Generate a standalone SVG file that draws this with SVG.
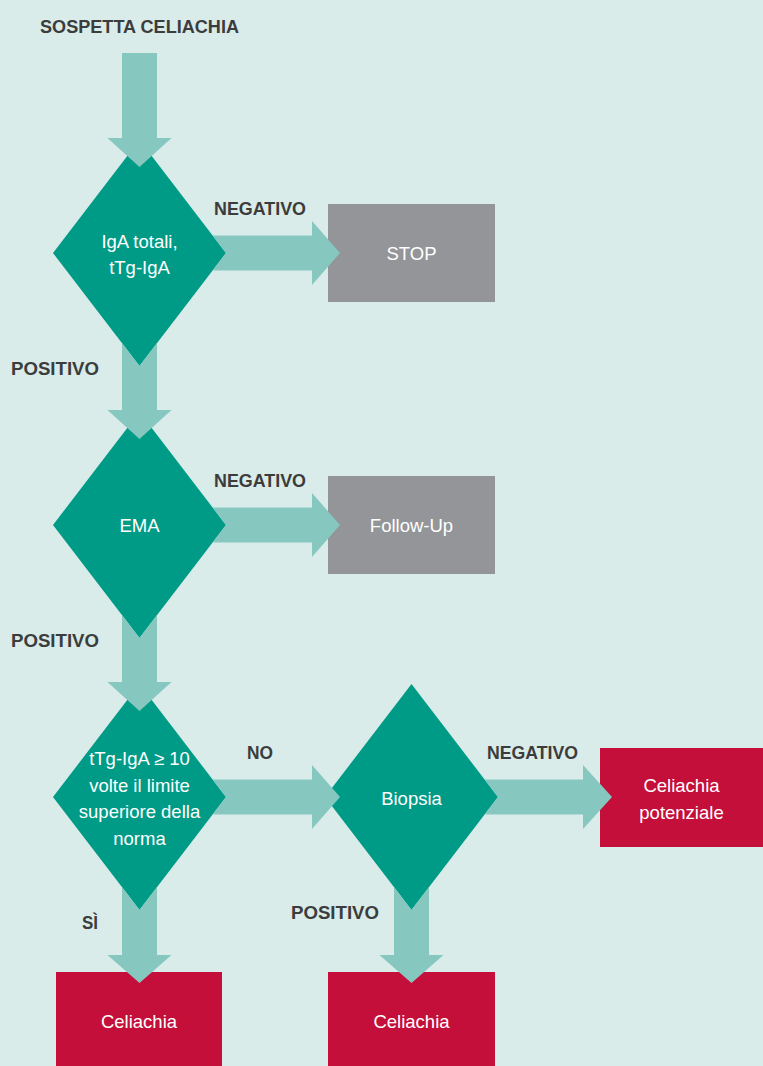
<svg xmlns="http://www.w3.org/2000/svg" width="763" height="1066" viewBox="0 0 763 1066">
<style>
.bg{fill:#d9ecea}
.arrow{fill:#86c7bf}
.dia{fill:#009b87}
.gray{fill:#939598}
.red{fill:#c40f3a}
.lbl{font-family:"Liberation Sans",Arial,sans-serif;font-weight:bold;font-size:19px;fill:#3c3c3c}
.nt{font-family:"Liberation Sans",Arial,sans-serif;font-size:18.5px;fill:#ffffff;text-anchor:middle}
</style>
<rect class="bg" x="0" y="0" width="763" height="1066"/>
<g id="nodes">
  <g id="d1"><polygon class="dia" points="139.5,140 226,253 139.5,366 53,253"/>
    <text class="nt" x="139.5" y="248">IgA totali,</text>
    <text class="nt" x="139.5" y="274">tTg-IgA</text></g>
  <g id="stop"><rect class="gray" x="328" y="204" width="167" height="98"/>
    <text class="nt" x="411.5" y="260">STOP</text></g>
  <g id="d2"><polygon class="dia" points="139.5,412 226,525 139.5,638 53,525"/>
    <text class="nt" x="139.5" y="532">EMA</text></g>
  <g id="followup"><rect class="gray" x="328" y="476" width="167" height="98"/>
    <text class="nt" x="411.5" y="532">Follow-Up</text></g>
  <g id="d3"><polygon class="dia" points="139.5,684 226,797 139.5,910 53,797"/>
    <text class="nt" x="139.5" y="765">tTg-IgA ≥ 10</text>
    <text class="nt" x="139.5" y="792">volte il limite</text>
    <text class="nt" x="139.5" y="818">superiore della</text>
    <text class="nt" x="139.5" y="845">norma</text></g>
  <g id="biopsia"><polygon class="dia" points="411.5,684 498,797 411.5,910 325,797"/>
    <text class="nt" x="411.5" y="805">Biopsia</text></g>
  <g id="potenziale"><rect class="red" x="600" y="748" width="163" height="99"/>
    <text class="nt" x="681.5" y="792">Celiachia</text>
    <text class="nt" x="681.5" y="819">potenziale</text></g>
  <g id="celiachia1"><rect class="red" x="56" y="972" width="166" height="94"/>
    <text class="nt" x="139" y="1028">Celiachia</text></g>
  <g id="celiachia2"><rect class="red" x="328" y="972" width="167" height="94"/>
    <text class="nt" x="411.5" y="1028">Celiachia</text></g>
</g>
<g id="connectors">
  <polygon class="arrow" points="122,53 157,53 157,138 171.5,138 139.5,167 107.5,138 122,138"/>
  <polygon class="arrow" points="212.6,235.5 312,235.5 312,221 340,253 312,285 312,270.5 212.6,270.5 226,253"/>
  <polygon class="arrow" points="122,343.1 139.5,366 157,343.1 157,410 171.5,410 139.5,439 107.5,410 122,410"/>
  <polygon class="arrow" points="212.6,507.5 312,507.5 312,493 340,525 312,557 312,542.5 212.6,542.5 226,525"/>
  <polygon class="arrow" points="122,615.1 139.5,638 157,615.1 157,682 171.5,682 139.5,711 107.5,682 122,682"/>
  <polygon class="arrow" points="212.6,779.5 312,779.5 312,765 340,797 312,829 312,814.5 212.6,814.5 226,797"/>
  <polygon class="arrow" points="484.6,779.5 583,779.5 583,765 612,797 583,829 583,814.5 484.6,814.5 498,797"/>
  <polygon class="arrow" points="122,887.1 139.5,910 157,887.1 157,955 171.5,955 139.5,983 107.5,955 122,955"/>
  <polygon class="arrow" points="394,887.1 411.5,910 429,887.1 429,955 443.5,955 411.5,983 379.5,955 394,955"/>
</g>
<g id="labels">
  <text class="lbl" x="40" y="33" textLength="199" lengthAdjust="spacingAndGlyphs">SOSPETTA CELIACHIA</text>
  <text class="lbl" x="214" y="215" textLength="92" lengthAdjust="spacingAndGlyphs">NEGATIVO</text>
  <text class="lbl" x="11" y="375" textLength="88" lengthAdjust="spacingAndGlyphs">POSITIVO</text>
  <text class="lbl" x="214" y="487" textLength="92" lengthAdjust="spacingAndGlyphs">NEGATIVO</text>
  <text class="lbl" x="11" y="647" textLength="88" lengthAdjust="spacingAndGlyphs">POSITIVO</text>
  <text class="lbl" x="247" y="759" textLength="26" lengthAdjust="spacingAndGlyphs">NO</text>
  <text class="lbl" x="487" y="759" textLength="91" lengthAdjust="spacingAndGlyphs">NEGATIVO</text>
  <text class="lbl" x="82" y="929" textLength="16" lengthAdjust="spacingAndGlyphs">SÌ</text>
  <text class="lbl" x="291" y="919" textLength="88" lengthAdjust="spacingAndGlyphs">POSITIVO</text>
</g>
</svg>
